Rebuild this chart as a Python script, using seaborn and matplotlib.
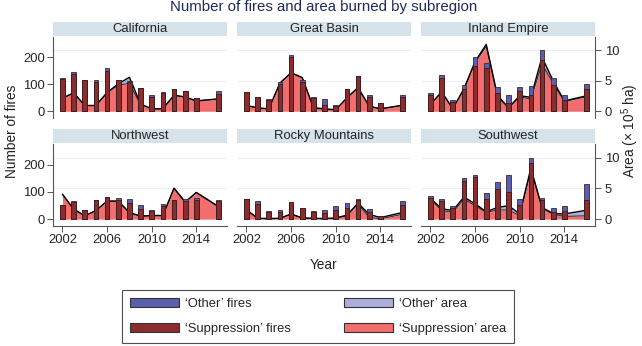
import numpy as np
import pandas as pd
import seaborn as sns
import matplotlib.pyplot as plt
from matplotlib.patches import Patch, Rectangle

# --------------------------
# Dados
# --------------------------
years = [2002, 2003, 2004, 2005, 2006, 2007, 2008, 2009, 2010, 2011, 2012, 2013, 2014, 2016]
regions = ['California', 'Great Basin', 'Inland Empire', 'Northwest', 'Rocky Mountains', 'Southwest']

supp_fires = {
    'California':      [120, 137, 115, 110, 150, 115, 108, 85, 54, 66, 82, 74, 50, 65],
    'Great Basin':     [71, 52, 40, 100, 200, 109, 49, 25, 19, 84, 131, 52, 31, 52],
    'Inland Empire':   [59, 122, 34, 84, 169, 159, 66, 31, 75, 59, 188, 96, 41, 84],
    'Northwest':       [52, 63, 35, 69, 81, 71, 60, 37, 29, 49, 71, 65, 71, 65],
    'Rocky Mountains': [75, 56, 25, 26, 61, 40, 25, 21, 35, 41, 69, 27, 10, 52],
    'Southwest':       [78, 66, 40, 140, 154, 75, 110, 100, 52, 204, 71, 27, 31, 71],
}
other_fires = {
    'California':      [2, 10, 1, 6, 9, 2, 4, 2, 6, 6, 2, 0, 0, 9],
    'Great Basin':     [0, 0, 7, 9, 10, 7, 5, 21, 5, 0, 0, 9, 0, 9],
    'Inland Empire':   [7, 13, 6, 15, 32, 18, 24, 28, 15, 35, 37, 29, 18, 16],
    'Northwest':       [0, 2, 0, 0, 0, 6, 12, 15, 6, 8, 0, 7, 6, 4],
    'Rocky Mountains': [0, 9, 6, 8, 0, 0, 6, 14, 15, 18, 6, 10, 0, 14],
    'Southwest':       [6, 6, 10, 10, 6, 21, 26, 60, 23, 21, 7, 13, 19, 58],
}
supp_area = {
    'California':      [2.1, 3.0, 0.95, 0.95, 3.0, 4.3, 4.6, 1.1, 0.4, 0.4, 2.6, 2.3, 1.7, 2.0],
    'Great Basin':     [0.95, 0.55, 0.4, 4.6, 6.3, 5.5, 0.55, 0.3, 0.2, 2.2, 3.9, 0.8, 0.4, 0.95],
    'Inland Empire':   [1.1, 3.1, 0.4, 3.6, 8.0, 10.7, 2.4, 0.5, 2.4, 2.0, 7.8, 4.6, 1.6, 2.4],
    'Northwest':       [4.0, 1.6, 0.55, 1.4, 2.9, 2.9, 1.0, 0.45, 0.55, 0.55, 5.0, 2.7, 4.3, 2.0],
    'Rocky Mountains': [1.5, 0.1, 0.05, 0.1, 0.8, 0.15, 0.1, 0.05, 0.15, 0.55, 2.5, 0.3, 0.05, 0.8],
    'Southwest':       [3.3, 1.4, 1.1, 3.3, 2.2, 1.1, 1.5, 1.5, 0.55, 8.0, 1.8, 0.8, 0.45, 0.55],
}
other_area = {
    'California':      [0.05, 0.05, 0.0, 0.0, 0.1, 0.2, 1.0, 0.1, 0.0, 0.0, 0.05, 0.05, 0.0, 0.05],
    'Great Basin':     [0.0, 0.0, 0.0, 0.05, 0.05, 0.05, 0.05, 0.1, 0.05, 0.0, 0.0, 0.05, 0.0, 0.05],
    'Inland Empire':   [0.05, 0.1, 0.05, 0.1, 0.2, 0.3, 0.2, 0.1, 0.15, 0.3, 1.1, 0.4, 0.1, 0.15],
    'Northwest':       [0.05, 0.05, 0.0, 0.0, 0.05, 0.05, 0.1, 0.05, 0.05, 0.05, 0.05, 0.1, 0.05, 0.05],
    'Rocky Mountains': [0.05, 0.05, 0.05, 0.05, 0.05, 0.05, 0.05, 0.05, 0.05, 0.1, 0.1, 0.5, 0.2, 0.3],
    'Southwest':       [0.1, 0.3, 0.3, 0.3, 0.3, 0.1, 0.4, 0.7, 0.3, 0.3, 0.1, 0.1, 0.4, 0.9],
}

# --------------------------
# Estilo
# --------------------------
sns.set_theme(style='white')
plt.rcParams['font.family'] = ['Liberation Sans', 'DejaVu Sans']
plt.rcParams['mathtext.fontset'] = 'custom'
plt.rcParams['mathtext.rm'] = 'Liberation Sans'

C_OTHER_FIRES = '#5b60ae'
C_SUPP_FIRES = '#8b2c2e'
C_OTHER_AREA = '#aeaedd'
C_SUPP_AREA = '#f26e6e'
C_STRIP = '#d6e3ea'
C_AXIS = '#555555'
FS = 9.4

W, H = 642, 346
fig = plt.figure(figsize=(W / 100, H / 100), dpi=100)

col_x = [53, 237, 421]
row_y = [(37, 118), (144, 226)]
pw = 174

for i, reg in enumerate(regions):
    r, c = divmod(i, 3)
    yt, yb = row_y[r]
    ax = fig.add_axes([col_x[c] / W, 1 - yb / H, pw / W, (yb - yt) / H])
    ax2 = ax.twinx()

    s_area = np.array(supp_area[reg])
    t_area = s_area + np.array(other_area[reg])
    s_f = np.array(supp_fires[reg])
    t_f = s_f + np.array(other_fires[reg])

    # grade leve (eixo da área)
    for g in [5, 10]:
        ax2.axhline(g, color='#e6edf1', lw=0.6, zorder=0)

    # área empilhada (eixo direito)
    ax2.fill_between(years, 0, s_area, color=C_SUPP_AREA, lw=0, zorder=1)
    ax2.fill_between(years, s_area, t_area, color=C_OTHER_AREA, lw=0, zorder=1)
    sns.lineplot(x=years, y=s_area, ax=ax2, color='#2a2a2a', lw=0.7, zorder=2)
    sns.lineplot(x=years, y=t_area, ax=ax2, color='black', lw=1.0, zorder=2)

    # barras empilhadas (eixo esquerdo)
    sns.barplot(x=years, y=t_f, ax=ax, native_scale=True, orient='x', width=0.42,
                color=C_OTHER_FIRES, saturation=1, errorbar=None,
                edgecolor='#3a2a30', linewidth=0.6)
    sns.barplot(x=years, y=s_f, ax=ax, native_scale=True, orient='x', width=0.42,
                color=C_SUPP_FIRES, saturation=1, errorbar=None,
                edgecolor='#3a1a1a', linewidth=0.6)

    ax.set_zorder(ax2.get_zorder() + 1)
    ax.patch.set_visible(False)

    ax.set_xlim(2001.15, 2016.75)
    ax.set_ylim(-25, 275)
    ax2.set_ylim(-25 / 22.5, 275 / 22.5)
    ax.set_yticks([0, 100, 200])
    ax2.set_yticks([0, 5, 10])
    ax.set_xticks([2002, 2006, 2010, 2014])
    ax.set_xlabel('')
    ax.set_ylabel('')
    ax2.set_ylabel('')

    for a in (ax, ax2):
        for sp in a.spines.values():
            sp.set_visible(False)
            sp.set_color(C_AXIS)
            sp.set_linewidth(0.8)
    ax.spines['left'].set_visible(c == 0)
    ax.spines['bottom'].set_visible(r == 1)
    ax2.spines['right'].set_visible(c == 2)

    ax.tick_params(axis='y', left=(c == 0), labelleft=(c == 0), right=False, labelright=False,
                   length=4, width=0.7, color=C_AXIS, labelsize=FS, pad=2)
    ax.tick_params(axis='x', bottom=(r == 1), labelbottom=(r == 1),
                   length=4, width=0.7, color=C_AXIS, labelsize=FS, pad=2)
    ax2.tick_params(axis='y', right=(c == 2), labelright=(c == 2), left=False, labelleft=False,
                    length=4, width=0.7, color=C_AXIS, labelsize=FS, pad=3)

    # faixa do título do painel
    h_ax = yb - yt
    ax.add_patch(Rectangle((0, 1 + 1.0 / h_ax), 1, 14.5 / h_ax, transform=ax.transAxes,
                           clip_on=False, color=C_STRIP, lw=0))
    ax.text(0.5, 1 + 8.3 / h_ax, reg, transform=ax.transAxes, ha='center', va='center',
            fontsize=FS, color='#222222')

# --------------------------
# Textos
# --------------------------
fig.text(324 / W, 1 - 7.5 / H, 'Number of fires and area burned by subregion',
         ha='center', va='center', fontsize=10.8, color='#1f2a5c')
fig.text(12 / W, 1 - 131 / H, 'Number of fires', rotation=90, ha='center', va='center',
         fontsize=9.8, color='#222222')
fig.text(630 / W, 1 - 131 / H, 'Area (× 10$^5$ ha)', rotation=90, ha='center', va='center',
         fontsize=9.8, color='#222222')
fig.text(324 / W, 1 - 265 / H, 'Year', ha='center', va='center', fontsize=9.8, color='#222222')

# --------------------------
# Legenda
# --------------------------
handles = [
    Patch(facecolor=C_OTHER_FIRES, edgecolor='#333333', lw=0.8),
    Patch(facecolor=C_SUPP_FIRES, edgecolor='#333333', lw=0.8),
    Patch(facecolor=C_OTHER_AREA, edgecolor='#333333', lw=0.8),
    Patch(facecolor=C_SUPP_AREA, edgecolor='#333333', lw=0.8),
]
labels = ["\u2018Other\u2019 fires", "\u2018Suppression\u2019 fires",
          "\u2018Other\u2019 area", "\u2018Suppression\u2019 area"]
leg = fig.legend(handles, labels, ncol=2, loc='upper left',
                 bbox_to_anchor=(121.7 / W, 1 - 290 / H), borderaxespad=0,
                 frameon=True, fancybox=False, fontsize=FS,
                 handlelength=3.77, handleheight=0.7, handletextpad=0.46,
                 columnspacing=4.1, labelspacing=1.0, borderpad=0.6)
leg.get_frame().set_edgecolor('#222222')
leg.get_frame().set_linewidth(0.8)

fig.savefig('out.png', dpi=100)
